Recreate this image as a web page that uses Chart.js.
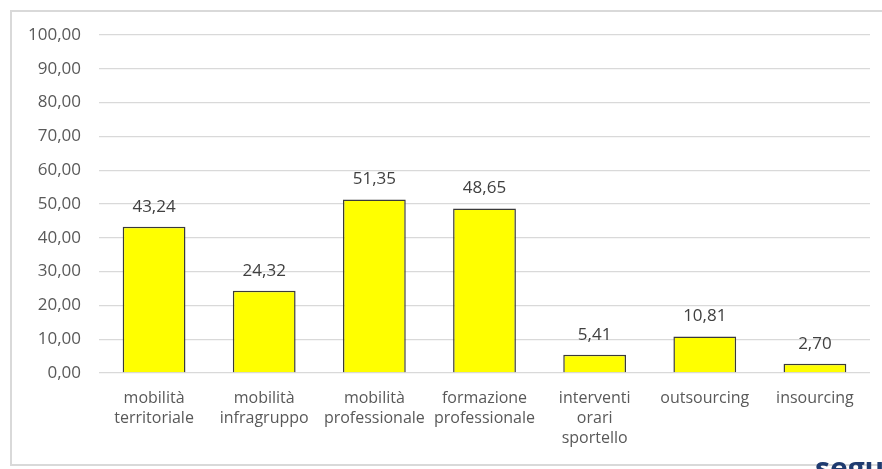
<!DOCTYPE html>
<html>
<head>
<meta charset="utf-8">
<script src="https://cdn.jsdelivr.net/npm/chart.js@4.4.1/dist/chart.umd.min.js"></script>
<style>
  html, body { margin: 0; padding: 0; background: #fff; overflow: hidden; }
  #wrap { position: relative; width: 882px; height: 469px; }
  #frame { position: absolute; left: 10px; top: 10px; width: 900px; height: 456px;
           border: 2px solid #d9d9d9; box-sizing: border-box; }
  #c { position: absolute; left: 0; top: 0; }
  #logo { position: absolute; left: 815px; top: 447px; font: bold 30px "Open Sans", sans-serif;
          color: #1f3b70; }
</style>
</head>
<body>
<div id="wrap">
  <div id="frame"></div>
  <canvas id="c" width="882" height="469"></canvas>
  <div id="logo">segu</div>
</div>
<script>
// valori (%) per strumento
const categories = [
  ['mobilità', 'territoriale'],
  ['mobilità', 'infragruppo'],
  ['mobilità', 'professionale'],
  ['formazione', 'professionale'],
  ['interventi', 'orari', 'sportello'],
  'outsourcing',
  'insourcing'
];
const values = [43.24, 24.32, 51.35, 48.65, 5.41, 10.81, 2.70];
const yTicks = [0, 10, 20, 30, 40, 50, 60, 70, 80, 90, 100];

const fmt = v => v.toFixed(2).replace('.', ',');

// etichette sopra le barre
const valueLabels = {
  id: 'valueLabels',
  afterDatasetsDraw(chart) {
    const ctx = chart.ctx;
    const meta = chart.getDatasetMeta(0);
    ctx.save();
    ctx.font = '17px "Open Sans", sans-serif';
    ctx.fillStyle = '#404040';
    ctx.textAlign = 'center';
    ctx.textBaseline = 'middle';
    meta.data.forEach((bar, i) => {
      ctx.fillText(fmt(values[i]), bar.x, bar.y - 20);
    });
    ctx.restore();
  }
};

new Chart(document.getElementById('c'), {
  type: 'bar',
  data: {
    labels: categories,
    datasets: [{
      data: values,
      backgroundColor: '#ffff00',
      borderColor: '#3a3a3a',
      borderWidth: 1.5,
      categoryPercentage: 1,
      barPercentage: 0.57
    }]
  },
  options: {
    responsive: false,
    animation: false,
    devicePixelRatio: 1,
    layout: { padding: { left: 20, right: 12, top: 35, bottom: 14 } },
    plugins: { legend: { display: false }, tooltip: { enabled: false } },
    scales: {
      x: {
        grid: { display: false },
        border: { display: false },
        ticks: {
          autoSkip: false, maxRotation: 0, minRotation: 0, padding: 7,
          color: '#595959',
          font: { family: '"Open Sans", sans-serif', size: 16, lineHeight: '20px' }
        }
      },
      y: {
        min: 0, max: 100,
        afterFit(scale) { scale.width = 79; },
        afterBuildTicks(scale) { scale.ticks = yTicks.map(v => ({ value: v })); },
        grid: { color: '#d9d9d9', lineWidth: 1.3, drawTicks: false },
        border: { display: false },
        ticks: {
          padding: 18,
          color: '#595959',
          font: { family: '"Open Sans", sans-serif', size: 17 },
          callback: v => fmt(v)
        }
      }
    }
  },
  plugins: [valueLabels]
});
</script>
</body>
</html>
